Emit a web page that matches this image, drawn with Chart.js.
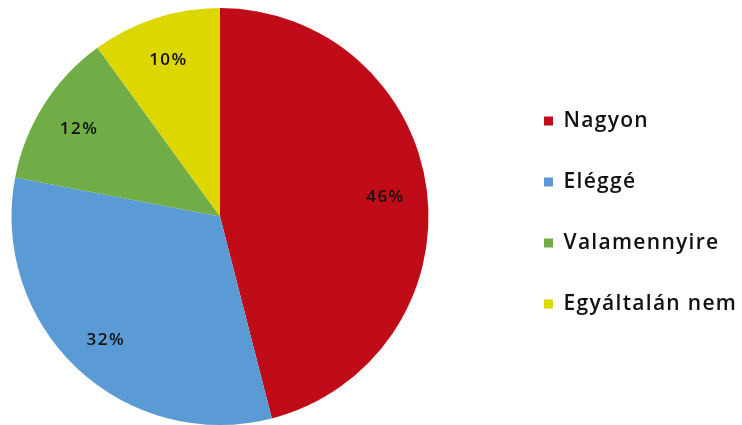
<!DOCTYPE html>
<html>
<head>
<meta charset="utf-8">
<script src="https://cdn.jsdelivr.net/npm/chart.js@4.4.1/dist/chart.umd.min.js"></script>
<style>
  html, body { margin: 0; padding: 0; background: #ffffff; }
  #wrap { position: relative; width: 742px; height: 425px; }
</style>
</head>
<body>
<div id="wrap"><canvas id="c"></canvas></div>
<script>
const categories = ['Nagyon', 'Eléggé', 'Valamennyire', 'Egyáltalán nem'];
const values = [46, 32, 12, 10];
const valueLabels = ['46%', '32%', '12%', '10%'];
const colors = ['#C00C18', '#5B9BD5', '#70AD47', '#DCD700'];

const LEGEND_LS = '1.3px';
const LABEL_LS = '1.5px';
const spacingPlugin = {
  id: 'spacing',
  beforeLayout(chart) { chart.ctx.letterSpacing = LEGEND_LS; },
  beforeDraw(chart) { chart.ctx.letterSpacing = LEGEND_LS; }
};

const legendPlacePlugin = {
  id: 'legendPlace',
  beforeUpdate(chart) {
    const lg = chart.legend;
    if (lg && !lg._patched) {
      const orig = lg.fit;
      lg.fit = function () { orig.call(this); this.width = 302; };
      lg._patched = true;
    }
  },
  afterLayout(chart) {
    const lg = chart.legend;
    if (!lg) return;
    lg.left = 504; lg.right = 742;
    lg.top -= 4; lg.bottom -= 4;
    lg.adjustHitBoxes && lg.adjustHitBoxes();
  }
};

const labelPlugin = {
  id: 'sliceLabels',
  afterDatasetsDraw(chart) {
    const ctx = chart.ctx;
    const meta = chart.getDatasetMeta(0);
    ctx.save();
    ctx.letterSpacing = LABEL_LS;
    ctx.font = '600 17px "Open Sans"';
    ctx.fillStyle = '#111111';
    ctx.textAlign = 'center';
    ctx.textBaseline = 'middle';
    meta.data.forEach((arc, i) => {
      const p = arc.getProps(['x', 'y', 'startAngle', 'endAngle', 'outerRadius'], true);
      const mid = (p.startAngle + p.endAngle) / 2;
      const r = p.outerRadius * 0.8;
      ctx.fillText(valueLabels[i], p.x + Math.cos(mid) * r, p.y + Math.sin(mid) * r + 2);
    });
    ctx.restore();
  }
};

new Chart(document.getElementById('c'), {
  type: 'pie',
  data: {
    labels: categories,
    datasets: [{
      data: values,
      backgroundColor: colors,
      borderWidth: 0
    }]
  },
  options: {
    responsive: true,
    maintainAspectRatio: false,
    animation: false,
    layout: { padding: { top: 8, bottom: 0, left: 0, right: 0 } },
    plugins: {
      tooltip: { enabled: false },
      legend: {
        position: 'right',
        align: 'center',
        labels: {
          boxWidth: 9,
          boxHeight: 9,
          padding: 40,
          color: '#111111',
          font: { family: '"Open Sans"', size: 21, weight: '600' }
        }
      }
    }
  },
  plugins: [spacingPlugin, legendPlacePlugin, labelPlugin]
});
</script>
</body>
</html>
